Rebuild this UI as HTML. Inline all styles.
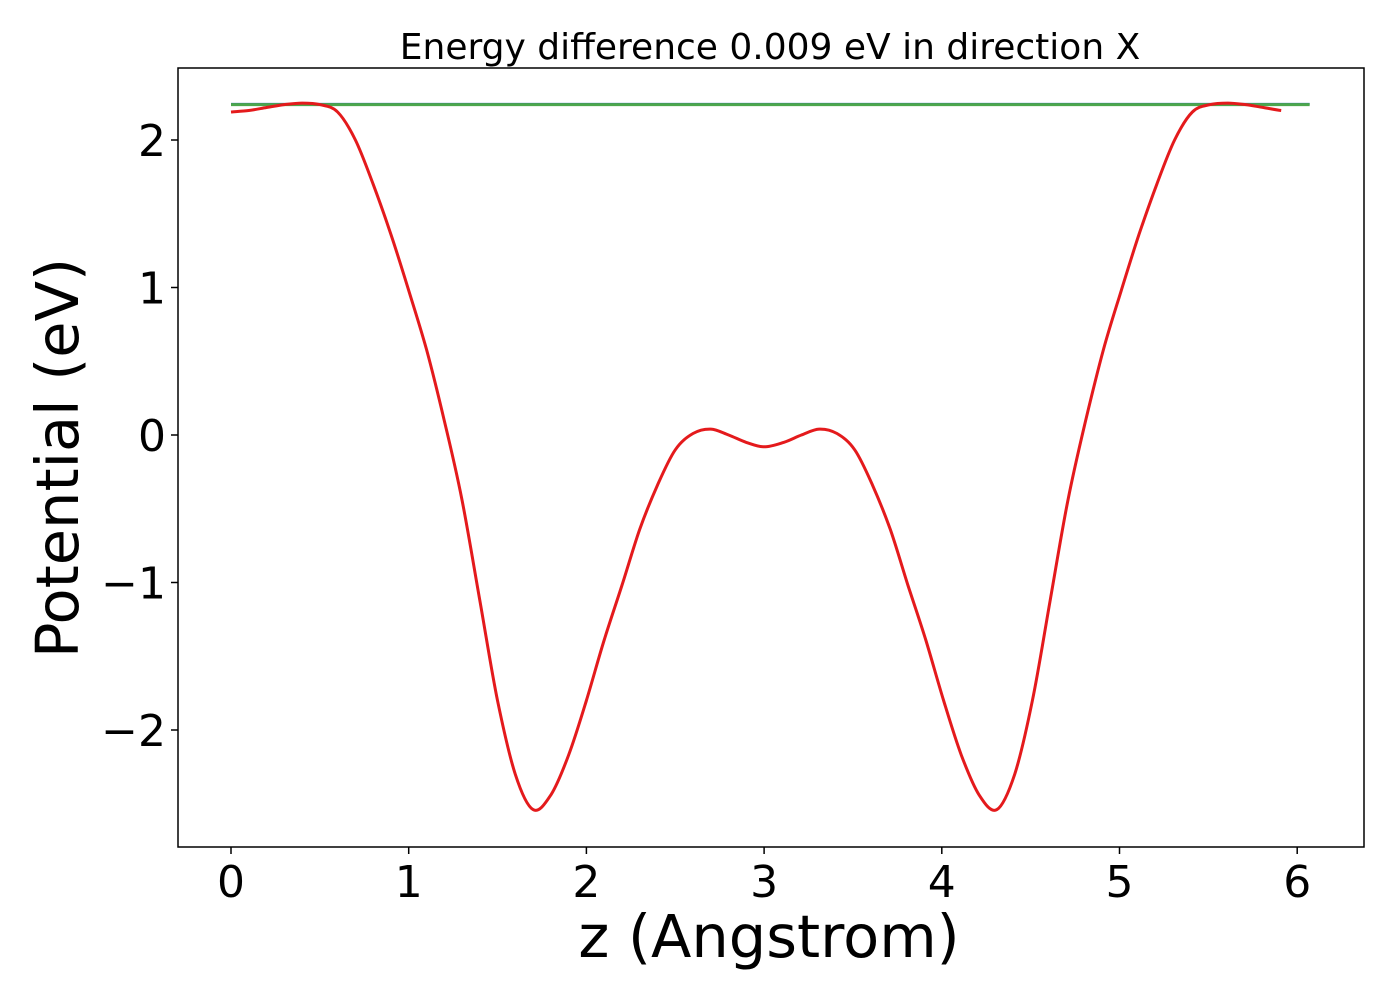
<!DOCTYPE html>
<html><head><meta charset="utf-8"><style>
body{margin:0;background:#fff;}
svg text{font-family:"DejaVu Sans","Liberation Sans",sans-serif;fill:#000;}
</style></head><body>
<svg width="1400" height="1000" viewBox="0 0 1400 1000">
<rect width="1400" height="1000" fill="#fff"/>
<g id="plot"></g>
<text x="770" y="59" text-anchor="middle" font-size="36">Energy difference 0.009 eV in direction X</text>
<text x="769" y="957" text-anchor="middle" font-size="59">z (Angstrom)</text>
<text transform="translate(78,458) rotate(-90)" text-anchor="middle" font-size="59">Potential (eV)</text>
</svg>
<script>
const xTicks=[0,1,2,3,4,5,6];
const yTicks=[-2,-1,0,1,2];
const zVals=[0,0.1,0.2,0.3,0.4,0.5,0.6,0.7,0.8,0.9,1.0,1.1,1.2,1.3,1.4,1.5,1.6,1.7,1.8,1.9,2.0,2.1,2.2,2.3,2.4,2.5,2.6,2.7,2.8,2.9,3.0,
3.11,3.21,3.31,3.41,3.51,3.61,3.71,3.81,3.91,4.01,4.11,4.21,4.31,4.41,4.51,4.61,4.71,4.81,4.91,5.01,5.11,5.21,5.31,5.41,5.51,5.61,5.71,5.81,5.91,6.01,6.07];
const potVals=[2.19,2.2,2.22,2.24,2.25,2.24,2.19,2.0,1.7,1.36,0.98,0.58,0.1,-0.44,-1.12,-1.8,-2.3,-2.54,-2.44,-2.17,-1.8,-1.39,-1.02,-0.64,-0.34,-0.1,0.01,0.04,0.0,-0.05,-0.08,
-0.05,0.0,0.04,0.01,-0.1,-0.34,-0.64,-1.02,-1.39,-1.8,-2.17,-2.44,-2.54,-2.3,-1.8,-1.12,-0.44,0.1,0.58,0.98,1.36,1.7,2.0,2.19,2.24,2.25,2.24,2.22,2.2,2.19];
const blueLevel=2.245;
const greenLevel=2.24;
const lineStart=0, lineEnd=6.07;

const L=178,R=1364,T=68,B=847;
const sx=v=>231+v*177.7;
const sy=v=>435-v*147.5;
const NS="http://www.w3.org/2000/svg";
const g=document.getElementById('plot');
function mk(t,a){const e=document.createElementNS(NS,t);for(const k in a)e.setAttribute(k,a[k]);g.appendChild(e);return e;}

xTicks.forEach(v=>{
  const t=mk('line',{x1:sx(v),x2:sx(v),y1:B,y2:B+7,stroke:'#000','stroke-width':1.5});
  
  
  const l=mk('text',{x:sx(v),y:B+50,'text-anchor':'middle','font-size':44});
  l.textContent=v;
  
  
});
yTicks.forEach(v=>{
  const t=mk('line',{x1:L-7,x2:L,y1:sy(v),y2:sy(v),stroke:'#000','stroke-width':1.5});
  
  
  const l=mk('text',{x:L-12,y:sy(v)+16,'text-anchor':'end','font-size':44});
  l.textContent=v<0?'\u2212'+Math.abs(v):v;
  
  
});
const b=mk('line',{x1:sx(lineStart),x2:sx(lineEnd),y1:sy(blueLevel),y2:sy(blueLevel),stroke:'#1f5fb4','stroke-width':2});


const gr=mk('line',{x1:sx(lineStart),x2:sx(lineEnd),y1:sy(greenLevel),y2:sy(greenLevel),stroke:'#4ca64c','stroke-width':3});


const pts=zVals.map((z,i)=>[sx(z),sy(potVals[i])]);
let d='M'+pts[0][0].toFixed(1)+','+pts[0][1].toFixed(1);
for(let i=0;i<pts.length-1;i++){
  const p0=pts[Math.max(0,i-1)],p1=pts[i],p2=pts[i+1],p3=pts[Math.min(pts.length-1,i+2)];
  const c1=[p1[0]+(p2[0]-p0[0])/6,p1[1]+(p2[1]-p0[1])/6];
  const c2=[p2[0]-(p3[0]-p1[0])/6,p2[1]-(p3[1]-p1[1])/6];
  d+='C'+c1[0].toFixed(1)+','+c1[1].toFixed(1)+' '+c2[0].toFixed(1)+','+c2[1].toFixed(1)+' '+p2[0].toFixed(1)+','+p2[1].toFixed(1);
}
const p=mk('path',{d:d,fill:'none',stroke:'#e41a1c','stroke-width':3,'stroke-linejoin':'round'});


const f=mk('rect',{x:L,y:T,width:R-L,height:B-T,fill:'none',stroke:'#000','stroke-width':1.5});


</script>
</body></html>
